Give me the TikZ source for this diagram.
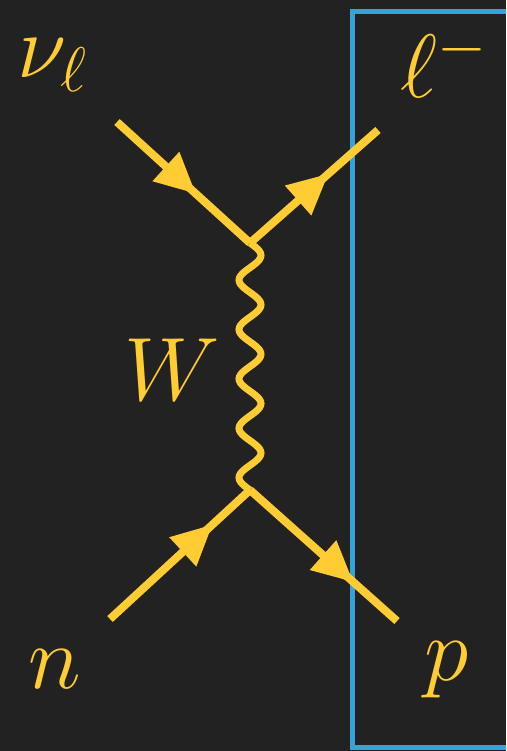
\RequirePackage{fix-cm}
\documentclass[tikz,border=0pt]{standalone}
\usetikzlibrary{arrows.meta,decorations.markings}
\definecolor{Board}{HTML}{222222}
\definecolor{Quark}{HTML}{FFCC33}
\definecolor{Frame}{HTML}{35A3DA}

\begin{document}
\begin{tikzpicture}[x=1pt, y=-1pt,
    fermion/.style={color=Quark, line width=8pt, postaction={decorate},
      decoration={markings, mark=at position #1 with {\arrow{Triangle[length=40pt, width=40pt, line width=0pt]}}}},
    boson/.style={color=Quark, line width=7pt},
    lbl/.style={text=Quark, font=\fontsize{90}{90}\selectfont, inner sep=0pt, anchor=base}
  ]
    \fill[Board] (0,0) rectangle (506,751);
    \clip (0,0) rectangle (506,751);

    % vertices and free ends
    \coordinate (vtop) at (250,243);
    \coordinate (vbot) at (250,490);
    \coordinate (nuin) at (117,122);
    \coordinate (lout) at (378,130);
    \coordinate (nin) at (110,619);
    \coordinate (pout) at (397,621);

    % frame round the outgoing side
    \draw[Frame, line width=5pt] (352,12) rectangle (540,747);

    \draw[fermion=0.59] (nuin) -- (vtop);
    \draw[fermion=0.61] (vtop) -- (lout);
    \draw[fermion=0.73] (nin) -- (vbot);
    \draw[fermion=0.70] (vbot) -- (pout);
    % W line, five full waves from vtop down to vbot
    \draw[boson, shift={(vtop)}] plot[domain=0:247, samples=121, smooth] ({11*sin(\x*7.2874)}, \x);

    \node[lbl] (nul) at (52,78) {$\nu_\ell$};
    \node[lbl] (lep) at (444,98) {$\ell^-$};
    \node[lbl] (wbos) at (172,400) {$W$};
    \node[lbl] (neu) at (55,688) {$n$};
    \node[lbl] (pro) at (447,680) {$p$};
  \end{tikzpicture}
\end{document}
